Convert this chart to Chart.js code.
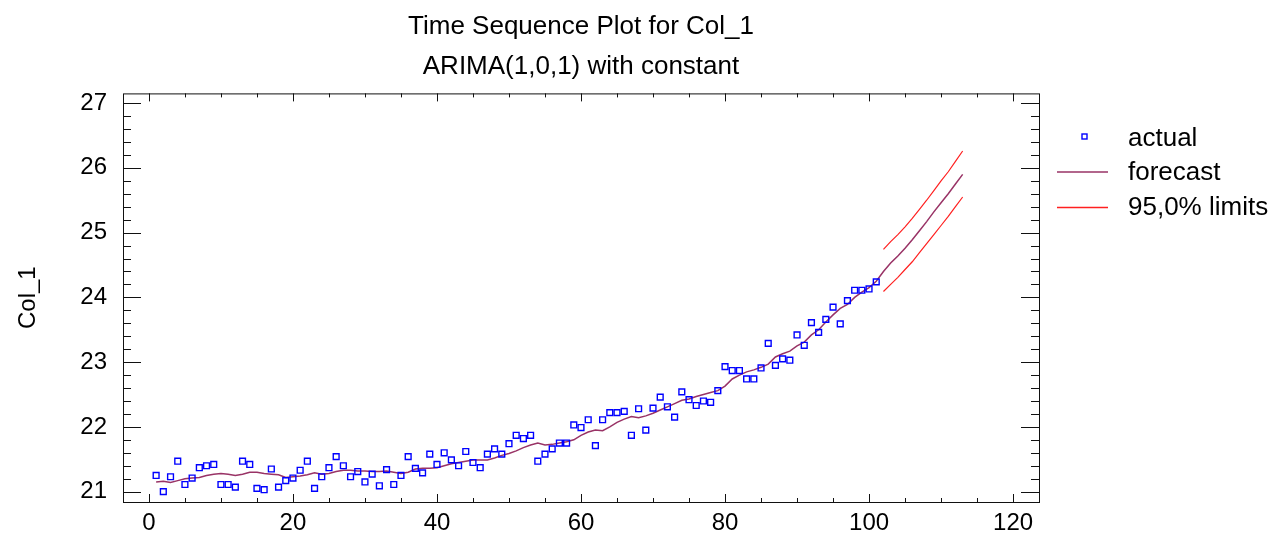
<!DOCTYPE html>
<html lang="en">
<head>
<meta charset="UTF-8">
<title>Time Sequence Plot for Col_1</title>
<script src="https://cdn.jsdelivr.net/npm/chart.js"></script>
<style>
  html, body { margin: 0; padding: 0; background: #fff; }
</style>
</head>
<body>
<canvas id="tsPlot" width="1270" height="539"></canvas>

<script>
// observed series, periods 1..101
const actualValues = [
  21.25, 21.00, 21.23, 21.47, 21.11, 21.21, 21.37, 21.40, 21.42, 21.11,
  21.11, 21.07, 21.47, 21.42, 21.05, 21.03, 21.35, 21.07, 21.17, 21.21,
  21.33, 21.47, 21.05, 21.23, 21.37, 21.54, 21.40, 21.23, 21.31, 21.15,
  21.27, 21.09, 21.34, 21.11, 21.25, 21.54, 21.36, 21.29, 21.58, 21.42,
  21.60, 21.49, 21.40, 21.62, 21.45, 21.37, 21.58, 21.66, 21.58, 21.74,
  21.87, 21.82, 21.87, 21.47, 21.58, 21.66, 21.75, 21.75, 22.03, 21.99,
  22.11, 21.71, 22.11, 22.22, 22.22, 22.24, 21.87, 22.28, 21.95, 22.29,
  22.46, 22.31, 22.15, 22.54, 22.42, 22.33, 22.40, 22.38, 22.56, 22.93,
  22.87, 22.87, 22.74, 22.74, 22.91, 23.29, 22.95, 23.05, 23.03, 23.42,
  23.26, 23.61, 23.46, 23.66, 23.85, 23.59, 23.95, 24.11, 24.11, 24.13,
  24.24
];

// one-step forecasts 1..101, then forecasts 102..113
const forecastValues = [
  21.15, 21.16, 21.14, 21.17, 21.20, 21.21, 21.22, 21.25, 21.27, 21.28,
  21.27, 21.25, 21.27, 21.30, 21.30, 21.28, 21.27, 21.26, 21.22, 21.23,
  21.24, 21.26, 21.29, 21.27, 21.28, 21.31, 21.33, 21.33, 21.32, 21.32,
  21.31, 21.31, 21.32, 21.30, 21.28, 21.30, 21.35, 21.36, 21.36, 21.37,
  21.40, 21.43, 21.45, 21.47, 21.49, 21.49, 21.49, 21.52, 21.56, 21.59,
  21.63, 21.68, 21.72, 21.75, 21.72, 21.73, 21.75, 21.77, 21.80, 21.87,
  21.92, 21.95, 21.94, 22.00, 22.07, 22.12, 22.16, 22.14, 22.17, 22.21,
  22.26, 22.31, 22.36, 22.41, 22.43, 22.47, 22.50, 22.53, 22.56, 22.63,
  22.74, 22.80, 22.85, 22.88, 22.92, 22.97, 23.08, 23.13, 23.17, 23.25,
  23.31, 23.42, 23.50, 23.62, 23.73, 23.83, 23.89, 24.00, 24.08, 24.15,
  24.25,
  24.40, 24.53, 24.64, 24.76, 24.89, 25.03, 25.17, 25.32, 25.46, 25.60,
  25.75, 25.90
];

// 95% limits for periods 102..113
const upperLimits = [24.74, 24.86, 24.97, 25.09, 25.22, 25.36, 25.50, 25.65, 25.80, 25.94, 26.10, 26.26];
const lowerLimits = [24.09, 24.20, 24.31, 24.43, 24.55, 24.69, 24.83, 24.97, 25.11, 25.25, 25.40, 25.55];
const firstForecastPeriod = 102;

const xTickValues = [0, 20, 40, 60, 80, 100, 120];
const yTickValues = [21, 22, 23, 24, 25, 26, 27];

const FONT = "'Liberation Sans', Arial, sans-serif";
const BLUE = '#0000ff';
const FORECAST_COLOR = '#993366';
const LIMIT_COLOR = '#ff2020';

const toPoints = (vals, start) => vals.map((v, i) => ({ x: start + i, y: v }));

// frame with inward ticks + legend on the right
const framePlugin = {
  id: 'frame',
  afterDraw(chart) {
    const ctx = chart.ctx;
    const a = chart.chartArea;
    const xs = chart.scales.x, ys = chart.scales.y;
    ctx.save();
    ctx.strokeStyle = '#111';
    ctx.lineWidth = 1;
    ctx.strokeRect(a.left + 0.5, a.top + 0.5, a.right - a.left, a.bottom - a.top);

    ctx.beginPath();
    for (let v = 0; v <= 120; v += 5) {
      const px = Math.round(xs.getPixelForValue(v)) + 0.5;
      const len = v % 20 === 0 ? 8 : 4;
      ctx.moveTo(px, a.bottom); ctx.lineTo(px, a.bottom - len);
      ctx.moveTo(px, a.top); ctx.lineTo(px, a.top + len);
    }
    for (let i = 0; i <= 30; i++) {
      const py = Math.round(ys.getPixelForValue(21 + i * 0.2)) + 0.5;
      const len = i % 5 === 0 ? 18 : 8;
      ctx.moveTo(a.left, py); ctx.lineTo(a.left + len, py);
      ctx.moveTo(a.right, py); ctx.lineTo(a.right - len, py);
    }
    ctx.stroke();

    // legend
    const lx = a.right + 18, tx = a.right + 89;
    ctx.strokeStyle = BLUE;
    ctx.lineWidth = 1.4;
    ctx.strokeRect(a.right + 43, 134, 5, 5);
    ctx.lineWidth = 1.6;
    ctx.strokeStyle = FORECAST_COLOR;
    ctx.beginPath(); ctx.moveTo(lx, 172); ctx.lineTo(lx + 51, 172); ctx.stroke();
    ctx.strokeStyle = LIMIT_COLOR;
    ctx.beginPath(); ctx.moveTo(lx, 207.5); ctx.lineTo(lx + 51, 207.5); ctx.stroke();

    ctx.fillStyle = '#000';
    ctx.font = '26px ' + FONT;
    ctx.textBaseline = 'alphabetic';
    ctx.fillText('actual', tx, 146);
    ctx.fillText('forecast', tx, 180);
    ctx.fillText('95,0% limits', tx, 215);
    ctx.restore();
  }
};

const ctx = document.getElementById('tsPlot').getContext('2d');
new Chart(ctx, {
  type: 'scatter',
  data: {
    datasets: [
      {
        label: 'actual',
        data: toPoints(actualValues, 1),
        showLine: false,
        pointStyle: 'rect',
        pointRadius: 4.1,
        pointBorderWidth: 1.4,
        borderColor: BLUE,
        backgroundColor: 'rgba(0,0,0,0)'
      },
      {
        label: 'forecast',
        data: toPoints(forecastValues, 1),
        showLine: true,
        pointRadius: 0,
        borderColor: FORECAST_COLOR,
        borderWidth: 1.5
      },
      {
        label: 'upper 95,0% limit',
        data: toPoints(upperLimits, firstForecastPeriod),
        showLine: true,
        pointRadius: 0,
        borderColor: LIMIT_COLOR,
        borderWidth: 1.2
      },
      {
        label: 'lower 95,0% limit',
        data: toPoints(lowerLimits, firstForecastPeriod),
        showLine: true,
        pointRadius: 0,
        borderColor: LIMIT_COLOR,
        borderWidth: 1.2
      }
    ]
  },
  options: {
    responsive: false,
    animation: false,
    layout: { padding: { left: 0, right: 231, top: 0, bottom: 0 } },
    plugins: {
      legend: { display: false },
      tooltip: { enabled: false },
      title: {
        display: true,
        fullSize: false,
        text: 'Time Sequence Plot for Col_1',
        color: '#000',
        font: { family: FONT, size: 26, weight: 'normal' },
        padding: { top: 11, bottom: 0 }
      },
      subtitle: {
        display: true,
        fullSize: false,
        text: 'ARIMA(1,0,1) with constant',
        color: '#000',
        font: { family: FONT, size: 26, weight: 'normal' },
        padding: { top: 9, bottom: 11 }
      }
    },
    scales: {
      x: {
        type: 'linear',
        min: -3.6,
        max: 123.6,
        afterBuildTicks: s => { s.ticks = xTickValues.map(v => ({ value: v })); },
        afterFit: s => { s.height = 37; },
        grid: { display: false, drawTicks: false },
        border: { display: false },
        ticks: { color: '#000', padding: 7, maxRotation: 0, font: { family: FONT, size: 24 } }
      },
      y: {
        min: 20.84,
        max: 27.15,
        afterBuildTicks: s => { s.ticks = yTickValues.map(v => ({ value: v })); },
        afterFit: s => { s.width = 123; },
        grid: { display: false, drawTicks: false },
        border: { display: false },
        ticks: { color: '#000', padding: 16, font: { family: FONT, size: 24 } },
        title: {
          display: true,
          text: 'Col_1',
          color: '#000',
          font: { family: FONT, size: 24 },
          padding: { top: 14, bottom: 0 }
        }
      }
    }
  },
  plugins: [framePlugin]
});
</script>
</body>
</html>
